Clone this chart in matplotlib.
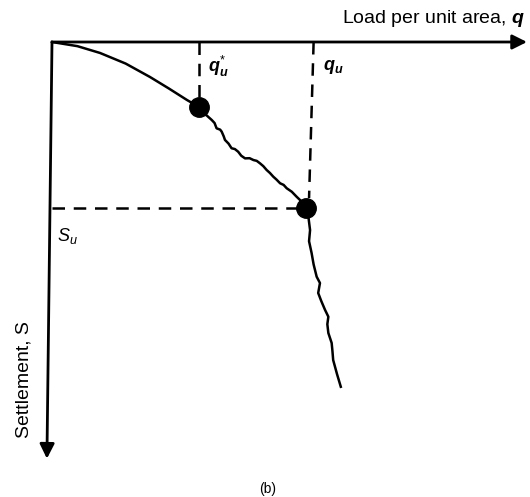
import matplotlib.pyplot as plt

plt.rcParams['font.family'] = ['Liberation Sans', 'DejaVu Sans']
plt.rcParams['mathtext.fontset'] = 'custom'
plt.rcParams['mathtext.it'] = 'Liberation Sans:italic'
plt.rcParams['mathtext.bf'] = 'Liberation Sans:bold:italic'
plt.rcParams['mathtext.rm'] = 'Liberation Sans'

# load q (in units of q_u) and settlement S (in units of S_u)
q_smooth = [0.0, 0.10, 0.189, 0.29, 0.386, 0.46, 0.531, 0.579]
S_smooth = [0.0, 0.025, 0.066, 0.13, 0.211, 0.28, 0.349, 0.392]

q_wavy = [0.579, 0.60, 0.629, 0.640, 0.648, 0.662, 0.668, 0.676, 0.681, 0.695,
          0.707, 0.720, 0.733, 0.745, 0.760, 0.778, 0.793, 0.806, 0.819, 0.832,
          0.845, 0.858, 0.871, 0.884, 0.898, 0.912, 0.924, 0.944, 0.963, 0.982, 1.0]
S_wavy = [0.392, 0.43, 0.470, 0.488, 0.520, 0.528, 0.540, 0.568, 0.590, 0.612,
          0.640, 0.645, 0.661, 0.685, 0.701, 0.700, 0.711, 0.716, 0.731, 0.748,
          0.771, 0.789, 0.811, 0.829, 0.851, 0.861, 0.881, 0.902, 0.932, 0.960, 1.0]

q_steep = [1.0, 1.010, 1.016, 1.012, 1.022, 1.030, 1.042, 1.055, 1.048, 1.060,
           1.075, 1.088, 1.084, 1.088, 1.101, 1.104, 1.107, 1.122, 1.137]
S_steep = [1.0, 1.06, 1.133, 1.20, 1.271, 1.34, 1.414, 1.452, 1.512, 1.56,
           1.614, 1.655, 1.70, 1.753, 1.813, 1.86, 1.916, 2.00, 2.077]

q_u_star, S_at_star = 0.579, 0.392
q_u, S_u = 1.0, 1.0

fig = plt.figure(figsize=(5.30, 4.97), dpi=100)
ax = fig.add_axes([0, 0, 1, 1])
ax.set_xlim(-52 / 254, (530 - 52) / 254)
ax.set_ylim((497 - 42) / 166, -42 / 166)
ax.axis('off')

# axes arrows
arrow = dict(arrowstyle='-|>', mutation_scale=22, lw=2.0, color='black',
             shrinkA=0, shrinkB=0)
ax.annotate('', xy=(1.870, 0), xytext=(0, 0), arrowprops=arrow)
ax.annotate('', xy=(-0.020, 2.51), xytext=(0, 0), arrowprops=arrow)

# dashed guide lines
dash = dict(color='black', lw=1.8, ls=(0, (5, 3.5)))
ax.plot([q_u_star, q_u_star], [0, S_at_star - 0.04], **dash)
ax.plot([1.030, 1.012], [0, S_u - 0.06], **dash)
ax.plot([0, q_u], [S_u, S_u], **dash)

# load-settlement curve
ax.plot(q_smooth, S_smooth, color='black', lw=1.8)
ax.plot(q_wavy, S_wavy, color='black', lw=1.8)
ax.plot(q_steep, S_steep, color='black', lw=1.8)
ax.plot([q_u_star, q_u], [S_at_star, S_u], 'o', color='black', ms=14)

# labels
ax.text(1.860, -0.140, r'Load per unit area, $\mathbf{q}$', fontsize=14,
        ha='right', va='center')
ax.text(q_u_star + 0.035, 0.15, r'$\mathbf{q}_{\mathbf{u}}^{*}$', fontsize=13, ha='left', va='center')
ax.text(1.065, 0.15, r'$\mathbf{q}_{\mathbf{u}}$', fontsize=13, ha='left', va='center')
ax.text(0.02, 1.17, r'$S_u$', fontsize=13, ha='left', va='center')
ax.text(-0.112, 2.036, 'Settlement, S', fontsize=14, rotation=90, ha='center', va='center')
ax.text(0.85, 2.69, '(b)', fontsize=10, ha='center', va='center')

fig.savefig('out.png', dpi=100)
